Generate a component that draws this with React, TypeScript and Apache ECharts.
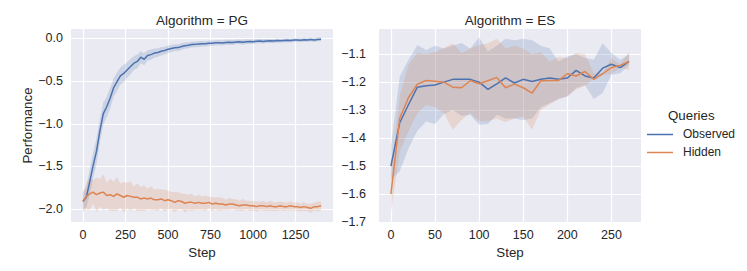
import React, { useEffect, useRef } from "react";
import * as echarts from "echarts";

// ---------- Data ----------
const pgSteps = [0, 20, 40, 60, 80, 100, 120, 140, 160, 180, 200, 220, 240, 260, 280, 300, 320, 340, 360, 380, 400, 420, 440, 460, 480, 500, 520, 540, 560, 580, 600, 620, 640, 660, 680, 700, 720, 740, 760, 780, 800, 820, 840, 860, 880, 900, 920, 940, 960, 980, 1000, 1020, 1040, 1060, 1080, 1100, 1120, 1140, 1160, 1180, 1200, 1220, 1240, 1260, 1280, 1300, 1320, 1340, 1360, 1380, 1400];

const pgObserved = [-1.91, -1.86, -1.68, -1.49, -1.32, -1.08, -0.88, -0.8, -0.7, -0.58, -0.51, -0.44, -0.41, -0.37, -0.33, -0.29, -0.27, -0.22, -0.245, -0.2, -0.19, -0.172, -0.165, -0.15, -0.143, -0.127, -0.118, -0.11, -0.108, -0.095, -0.085, -0.08, -0.072, -0.07, -0.066, -0.062, -0.064, -0.058, -0.056, -0.052, -0.05, -0.053, -0.047, -0.045, -0.048, -0.042, -0.04, -0.045, -0.038, -0.036, -0.039, -0.034, -0.031, -0.035, -0.03, -0.028, -0.031, -0.025, -0.027, -0.024, -0.022, -0.025, -0.02, -0.018, -0.021, -0.016, -0.018, -0.014, -0.019, -0.012, -0.01];

const pgObservedCi = [0.09, 0.12, 0.15, 0.15, 0.15, 0.14, 0.13, 0.12, 0.12, 0.11, 0.11, 0.1, 0.1, 0.09, 0.09, 0.08, 0.08, 0.07, 0.07, 0.06, 0.06, 0.055, 0.05, 0.05, 0.045, 0.045, 0.04, 0.04, 0.04, 0.038, 0.036, 0.036, 0.035, 0.034, 0.034, 0.033, 0.032, 0.032, 0.031, 0.031, 0.03, 0.03, 0.03, 0.029, 0.029, 0.028, 0.028, 0.028, 0.027, 0.027, 0.027, 0.026, 0.026, 0.026, 0.025, 0.025, 0.025, 0.025, 0.024, 0.024, 0.024, 0.024, 0.023, 0.023, 0.023, 0.023, 0.022, 0.022, 0.022, 0.022, 0.022];

const pgHidden = [-1.91, -1.85, -1.82, -1.8, -1.83, -1.81, -1.8, -1.84, -1.83, -1.85, -1.82, -1.84, -1.86, -1.84, -1.85, -1.86, -1.86, -1.88, -1.87, -1.88, -1.87, -1.89, -1.89, -1.88, -1.9, -1.89, -1.9, -1.92, -1.9, -1.91, -1.93, -1.92, -1.92, -1.93, -1.92, -1.93, -1.93, -1.92, -1.94, -1.93, -1.94, -1.94, -1.95, -1.94, -1.94, -1.95, -1.96, -1.95, -1.95, -1.96, -1.96, -1.97, -1.96, -1.96, -1.97, -1.96, -1.97, -1.97, -1.96, -1.97, -1.97, -1.96, -1.97, -1.97, -1.98, -1.97, -1.98, -1.99, -1.97, -1.97, -1.96];

const pgHiddenCi = [0.12, 0.15, 0.19, 0.14, 0.2, 0.16, 0.21, 0.15, 0.19, 0.17, 0.2, 0.14, 0.18, 0.15, 0.17, 0.13, 0.16, 0.14, 0.15, 0.12, 0.14, 0.12, 0.13, 0.11, 0.13, 0.11, 0.1, 0.12, 0.1, 0.09, 0.11, 0.09, 0.1, 0.08, 0.09, 0.08, 0.09, 0.07, 0.08, 0.07, 0.08, 0.07, 0.06, 0.07, 0.06, 0.065, 0.06, 0.07, 0.05, 0.06, 0.055, 0.06, 0.05, 0.055, 0.05, 0.06, 0.05, 0.055, 0.05, 0.05, 0.045, 0.055, 0.045, 0.05, 0.045, 0.05, 0.045, 0.055, 0.045, 0.06, 0.05];

const esSteps = [0, 10, 20, 30, 40, 50, 60, 70, 80, 90, 100, 110, 120, 130, 140, 150, 160, 170, 180, 190, 200, 210, 220, 230, 240, 250, 260, 270];

const esObserved = [-1.5, -1.345, -1.28, -1.218, -1.213, -1.21, -1.2, -1.19, -1.19, -1.19, -1.2, -1.226, -1.206, -1.185, -1.203, -1.19, -1.198, -1.19, -1.185, -1.19, -1.185, -1.158, -1.178, -1.185, -1.15, -1.136, -1.148, -1.126];
const esObservedUpper = [-1.43, -1.18, -1.12, -1.067, -1.085, -1.07, -1.08, -1.07, -1.06, -1.08, -1.04, -1.09, -1.07, -1.045, -1.05, -1.045, -1.05, -1.07, -1.08, -1.126, -1.108, -1.1, -1.114, -1.12, -1.061, -1.096, -1.12, -1.1];
const esObservedLower = [-1.55, -1.519, -1.436, -1.374, -1.341, -1.35, -1.314, -1.3, -1.32, -1.317, -1.352, -1.35, -1.317, -1.33, -1.33, -1.335, -1.33, -1.29, -1.275, -1.26, -1.251, -1.221, -1.21, -1.26, -1.239, -1.174, -1.168, -1.138];

const esHidden = [-1.6, -1.329, -1.255, -1.207, -1.194, -1.197, -1.2, -1.218, -1.22, -1.195, -1.206, -1.195, -1.183, -1.22, -1.207, -1.22, -1.239, -1.195, -1.194, -1.194, -1.17, -1.178, -1.162, -1.19, -1.17, -1.148, -1.14, -1.126];
const esHiddenUpper = [-1.53, -1.25, -1.138, -1.096, -1.1, -1.092, -1.079, -1.061, -1.096, -1.08, -1.067, -1.061, -1.045, -1.08, -1.07, -1.08, -1.1, -1.093, -1.126, -1.11, -1.114, -1.096, -1.1, -1.168, -1.168, -1.114, -1.138, -1.091];
const esHiddenLower = [-1.668, -1.448, -1.376, -1.311, -1.281, -1.29, -1.31, -1.37, -1.335, -1.31, -1.34, -1.34, -1.33, -1.343, -1.33, -1.323, -1.37, -1.3, -1.28, -1.26, -1.25, -1.226, -1.213, -1.186, -1.174, -1.17, -1.148, -1.157];

const pgXTicks = [0, 250, 500, 750, 1000, 1250];
const pgYTicks = [-2.0, -1.5, -1.0, -0.5, 0.0];
const esXTicks = [0, 50, 100, 150, 200, 250];
const esYTicks = [-1.7, -1.6, -1.5, -1.4, -1.3, -1.2, -1.1];

const seriesNames = ["Observed", "Hidden"];
const panelTitles = ["Algorithm = PG", "Algorithm = ES"];

// ---------- Styles ----------
const BLUE = "#4C72B0";
const ORANGE = "#DD8452";
const BLUE_BAND = "rgba(76,114,176,0.2)";
const ORANGE_BAND = "rgba(221,132,82,0.2)";
const TEXT = "#262626";
const FONT = '"Liberation Sans", Arial, Helvetica, sans-serif';

const fmtY = (v: number) => (v < -1e-9 ? "\u2212" : "") + Math.abs(v).toFixed(1);

function xAxisCfg(gridIndex: number, min: number, max: number, ticks: number[]) {
  return {
    type: "value",
    gridIndex,
    min,
    max,
    axisLine: { show: false },
    axisTick: { show: false, customValues: ticks },
    axisLabel: {
      customValues: ticks,
      color: TEXT,
      fontSize: 12.5,
      fontFamily: FONT,
      margin: 6,
      formatter: (v: number) => String(v),
    },
    splitLine: { show: true, lineStyle: { color: "#ffffff", width: 1.2 } },
    name: "Step",
    nameLocation: "middle",
    nameGap: 19,
    nameTextStyle: { color: TEXT, fontSize: 13.3, fontFamily: FONT },
  };
}

function yAxisCfg(gridIndex: number, min: number, max: number, ticks: number[], margin: number, name: string) {
  return {
    type: "value",
    gridIndex,
    min,
    max,
    axisLine: { show: false },
    axisTick: { show: false, customValues: ticks },
    axisLabel: {
      customValues: ticks,
      color: TEXT,
      fontSize: 12.5,
      fontFamily: FONT,
      margin,
      formatter: fmtY,
    },
    splitLine: { show: true, lineStyle: { color: "#ffffff", width: 1.2 } },
    name,
    nameLocation: "middle",
    nameGap: 34,
    nameRotate: 90,
    nameTextStyle: { color: TEXT, fontSize: 13.3, fontFamily: FONT },
  };
}

function bandSeries(axisIndex: number, xs: number[], lower: number[], upper: number[], fill: string) {
  return {
    type: "custom",
    xAxisIndex: axisIndex,
    yAxisIndex: axisIndex,
    silent: true,
    z: 1,
    data: [[xs[0], lower[0]]],
    renderItem: (_params: any, api: any) => {
      const pts: number[][] = [];
      for (let i = 0; i < xs.length; i++) pts.push(api.coord([xs[i], upper[i]]));
      for (let i = xs.length - 1; i >= 0; i--) pts.push(api.coord([xs[i], lower[i]]));
      return { type: "polygon", shape: { points: pts }, style: { fill, stroke: "none" } };
    },
  };
}

function lineSeries(name: string, axisIndex: number, xs: number[], ys: number[], color: string) {
  return {
    type: "line",
    name,
    xAxisIndex: axisIndex,
    yAxisIndex: axisIndex,
    data: xs.map((x, i) => [x, ys[i]]),
    showSymbol: false,
    symbol: "none",
    z: 3,
    lineStyle: { color, width: 1.5 },
    itemStyle: { color },
  };
}

export default function App() {
  const ref = useRef<HTMLDivElement>(null);

  useEffect(() => {
    if (!ref.current) return;
    const chart = echarts.init(ref.current, null, { renderer: "svg" });

    const pgObsUp = pgObserved.map((v, i) => v + pgObservedCi[i]);
    const pgObsLo = pgObserved.map((v, i) => v - pgObservedCi[i]);
    const pgHidUp = pgHidden.map((v, i) => v + pgHiddenCi[i]);
    const pgHidLo = pgHidden.map((v, i) => v - pgHiddenCi[i]);

    const option: any = {
      animation: false,
      backgroundColor: "#ffffff",
      textStyle: { fontFamily: FONT },
      title: [
        {
          text: panelTitles[0],
          left: 202,
          top: 13,
          textAlign: "center",
          padding: 0,
          textStyle: { color: TEXT, fontSize: 13.5, fontWeight: "normal", fontFamily: FONT },
        },
        {
          text: panelTitles[1],
          left: 510,
          top: 13,
          textAlign: "center",
          padding: 0,
          textStyle: { color: TEXT, fontSize: 13.5, fontWeight: "normal", fontFamily: FONT },
        },
      ],
      grid: [
        { left: 71, top: 29, width: 262, height: 193, show: true, backgroundColor: "#EAEAF2", borderWidth: 0, containLabel: false },
        { left: 379, top: 29, width: 262, height: 193, show: true, backgroundColor: "#EAEAF2", borderWidth: 0, containLabel: false },
      ],
      xAxis: [xAxisCfg(0, -70, 1470, pgXTicks), xAxisCfg(1, -13.5, 283.5, esXTicks)],
      yAxis: [
        yAxisCfg(0, -2.15, 0.11, pgYTicks, 8, "Performance"),
        yAxisCfg(1, -1.7, -1.01, esYTicks, 13, ""),
      ],
      series: [
        bandSeries(0, pgSteps, pgObsLo, pgObsUp, BLUE_BAND),
        bandSeries(0, pgSteps, pgHidLo, pgHidUp, ORANGE_BAND),
        lineSeries(seriesNames[0], 0, pgSteps, pgObserved, BLUE),
        lineSeries(seriesNames[1], 0, pgSteps, pgHidden, ORANGE),
        bandSeries(1, esSteps, esObservedLower, esObservedUpper, BLUE_BAND),
        bandSeries(1, esSteps, esHiddenLower, esHiddenUpper, ORANGE_BAND),
        lineSeries(seriesNames[0], 1, esSteps, esObserved, BLUE),
        lineSeries(seriesNames[1], 1, esSteps, esHidden, ORANGE),
      ],
      graphic: [
        {
          type: "text",
          left: 668,
          top: 109,
          style: { text: "Queries", fill: TEXT, font: `13.3px ${FONT}` },
        },
        { type: "line", shape: { x1: 647, y1: 134.5, x2: 673, y2: 134.5 }, style: { stroke: BLUE, lineWidth: 1.5 } },
        {
          type: "text",
          left: 683,
          top: 128,
          style: { text: seriesNames[0], fill: TEXT, font: `12px ${FONT}` },
        },
        { type: "line", shape: { x1: 647, y1: 152.5, x2: 673, y2: 152.5 }, style: { stroke: ORANGE, lineWidth: 1.5 } },
        {
          type: "text",
          left: 683,
          top: 146,
          style: { text: seriesNames[1], fill: TEXT, font: `12px ${FONT}` },
        },
      ],
    };

    chart.setOption(option);
    return () => chart.dispose();
  }, []);

  return (
    <div
      ref={ref}
      style={{ position: "fixed", left: 0, top: 0, width: 747, height: 271 }}
    />
  );
}
